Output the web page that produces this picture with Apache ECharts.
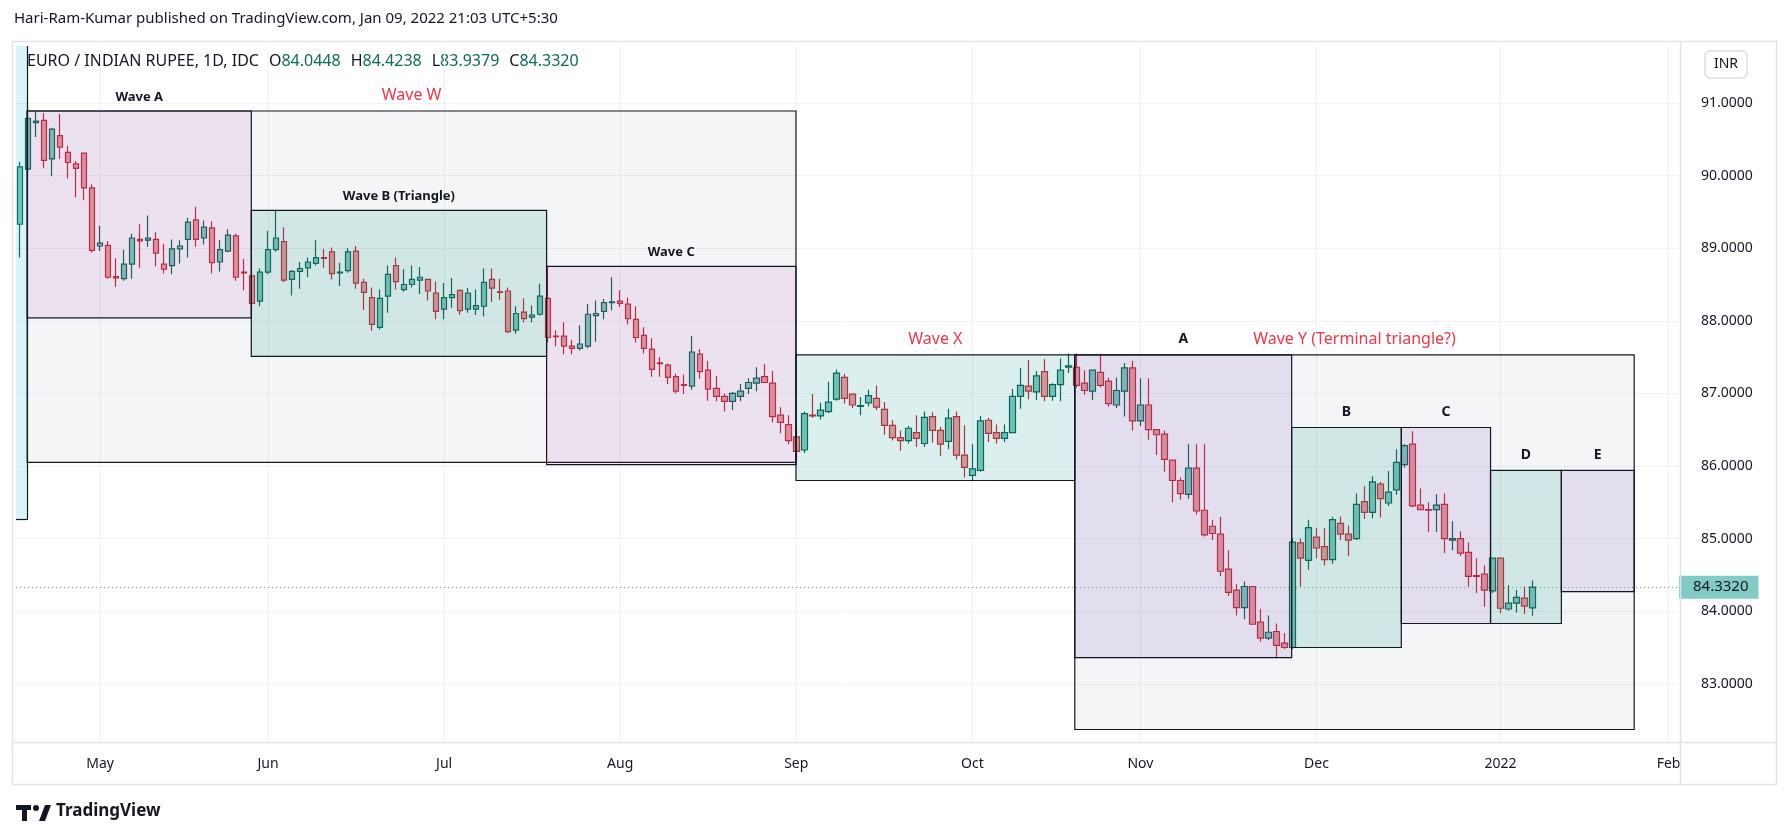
<!DOCTYPE html>
<html><head><meta charset="utf-8">
<script src="https://cdn.jsdelivr.net/npm/echarts@6/dist/echarts.min.js"></script>
<style>html,body{margin:0;padding:0;background:#fff}#c{width:1791px;height:838px}</style>
</head><body><div id="c"></div>
<script>
// ---------- DATA ----------
const firstDay = '2021-04-19';
const opens = [89.33,90.09,90.73,90.76,90.23,90.55,90.32,90.16,90.31,89.83,89.03,89.04,88.61,88.58,88.78,89.12,89.11,89.12,88.78,88.76,88.99,89.12,89.39,89.14,89.28,88.81,88.96,89.17,88.67,88.62,
88.27,88.67,88.98,89.09,88.57,88.68,88.73,88.79,88.87,88.95,88.66,88.69,88.96,88.53,88.32,87.91,88.34,88.76,88.43,88.50,88.56,88.57,88.38,88.16,88.32,88.42,88.16,88.16,88.20,88.57,
88.40,88.41,87.87,88.12,88.05,88.09,88.31,87.79,87.79,87.65,87.62,87.65,88.07,88.13,88.25,88.27,88.23,88.02,87.80,87.61,87.42,87.39,87.23,87.12,87.10,87.54,87.32,87.07,86.96,86.89,
86.96,87.07,87.14,87.23,87.14,86.70,86.57,86.40,86.22,86.70,86.69,86.75,86.92,87.22,86.99,86.82,86.87,86.93,86.78,86.56,86.39,86.35,86.46,86.31,86.68,86.49,86.34,86.68,86.15,85.87,
85.94,86.63,86.46,86.38,86.46,86.96,87.10,87.02,87.30,86.96,87.12,87.36,87.36,87.14,87.03,87.29,87.17,86.84,87.03,87.35,86.62,86.84,86.50,86.44,86.08,85.80,85.61,85.97,85.39,85.17,
85.06,84.58,84.29,84.05,84.34,83.85,83.63,83.72,83.56,83.50,84.94,84.70,85.02,84.89,84.71,85.21,85.06,85.00,85.51,85.36,85.75,85.49,85.67,86.02,86.30,85.46,85.40,85.40,85.47,84.98,
85.00,84.81,84.49,84.51,84.28,84.73,84.03,84.11,84.18,84.0448];
const highs = [90.19,90.96,90.88,90.86,90.66,90.85,90.41,90.20,90.31,89.88,89.31,89.10,88.86,88.98,89.20,89.33,89.45,89.22,89.06,89.12,89.11,89.42,89.57,89.38,89.37,89.11,89.26,89.20,88.85,88.67,
88.72,89.24,89.52,89.29,88.70,88.81,88.87,89.11,88.99,89.01,88.80,89.00,89.03,88.58,88.46,88.43,88.76,88.87,88.71,88.76,88.74,88.58,88.54,88.52,88.59,88.43,88.45,88.43,88.72,88.72,
88.58,88.46,88.20,88.31,88.21,88.51,88.74,87.87,87.98,87.74,87.94,88.23,88.28,88.30,88.60,88.42,88.32,88.20,87.91,87.76,87.50,87.41,87.27,87.26,87.79,87.61,87.45,87.24,87.00,87.02,
87.13,87.21,87.36,87.40,87.31,86.81,86.70,86.52,86.75,86.99,86.87,87.16,87.33,87.27,87.00,86.95,87.05,87.11,86.88,86.63,86.49,86.55,86.70,86.75,86.74,86.54,86.79,86.75,86.56,86.30,
86.69,86.66,86.57,86.57,87.06,87.35,87.46,87.31,87.47,87.14,87.48,87.55,87.55,87.32,87.33,87.54,87.22,87.22,87.42,87.45,87.21,87.21,86.50,86.49,86.09,85.84,86.30,86.30,86.30,85.26,
85.30,84.84,84.37,84.41,84.34,84.03,83.94,83.83,83.70,85.00,85.00,85.26,85.15,85.15,85.30,85.30,85.18,85.62,85.72,85.86,85.78,85.93,86.23,86.30,86.48,85.69,85.50,85.61,85.62,85.24,
85.10,84.95,84.73,84.63,84.73,84.74,84.36,84.29,84.34,84.4238];
const lows = [88.87,90.02,90.53,90.10,89.99,90.23,89.96,89.70,89.66,88.94,88.96,88.58,88.47,88.55,88.58,88.73,89.02,88.75,88.65,88.64,88.79,88.87,89.02,89.05,88.65,88.68,88.94,88.55,88.42,88.15,
88.20,88.64,88.95,88.53,88.35,88.44,88.60,88.76,88.73,88.57,88.48,88.66,88.44,88.15,87.86,87.88,88.11,88.43,88.40,88.46,88.37,88.28,88.02,88.02,88.18,88.08,88.11,88.08,88.06,88.26,
88.29,87.83,87.82,87.98,87.98,88.07,87.70,87.65,87.54,87.54,87.59,87.62,87.71,88.02,88.14,88.19,87.95,87.70,87.55,87.23,87.23,87.13,87.00,86.99,87.05,87.20,86.90,86.89,86.75,86.77,
86.89,86.99,87.03,87.15,86.60,86.45,86.30,86.08,86.18,86.66,86.64,86.73,86.90,86.86,86.80,86.70,86.82,86.77,86.43,86.35,86.21,86.31,86.26,86.26,86.32,86.14,86.23,86.09,85.84,85.80,
85.92,86.33,86.31,86.33,86.45,86.79,86.92,86.91,86.89,86.90,86.89,87.28,87.08,86.98,86.91,87.08,86.82,86.80,86.68,86.49,86.55,86.36,86.15,85.92,85.50,85.54,85.55,85.33,85.03,84.98,
84.48,84.21,83.94,83.89,83.82,83.58,83.60,83.35,83.48,83.48,84.34,84.57,84.73,84.63,84.65,84.98,84.76,84.98,85.27,85.28,85.29,85.45,85.60,85.98,85.43,85.39,85.09,85.09,84.80,84.84,
84.76,84.34,84.25,84.06,84.25,83.97,84.01,83.98,83.96,83.9379];
const closes = [90.12,90.79,90.75,90.21,90.64,90.39,90.18,90.10,89.83,88.97,89.07,88.60,88.59,88.78,89.14,89.10,89.14,88.93,88.71,88.99,89.03,89.36,89.12,89.29,88.80,88.98,89.18,88.60,88.66,88.24,
88.67,88.98,89.14,88.56,88.68,88.72,88.81,88.87,88.86,88.65,88.67,88.95,88.52,88.39,87.95,88.31,88.64,88.54,88.50,88.57,88.60,88.41,88.13,88.32,88.36,88.14,88.38,88.21,88.53,88.45,
88.39,87.85,88.10,88.03,88.08,88.34,87.77,87.78,87.65,87.62,87.68,88.09,88.10,88.25,88.26,88.24,88.03,87.77,87.62,87.33,87.41,87.22,87.03,87.11,87.57,87.30,87.06,86.96,86.89,87.00,
87.03,87.15,87.21,87.15,86.68,86.60,86.35,86.20,86.72,86.69,86.77,86.88,87.28,86.93,86.84,86.83,86.97,86.81,86.56,86.39,86.35,86.52,86.38,86.67,86.49,86.30,86.66,86.15,85.98,85.96,
86.62,86.45,86.38,86.46,86.96,87.11,87.03,87.24,86.96,87.12,87.32,87.38,87.11,87.04,87.32,87.11,86.86,87.04,87.35,86.62,86.84,86.50,86.43,86.09,85.80,85.62,85.97,85.38,85.05,85.07,
84.55,84.26,84.05,84.34,83.82,83.63,83.71,83.53,83.50,84.95,84.73,85.15,84.87,84.71,85.26,85.06,84.98,85.47,85.36,85.78,85.55,85.64,86.05,86.28,85.45,85.40,85.39,85.46,85.00,85.00,
84.80,84.48,84.48,84.29,84.73,84.04,84.11,84.19,84.07,84.3320];
const lastPrice = 84.3320;
const priceTicks = [83,84,85,86,87,88,89,90,91];
const monthTicks = [[10,'May'],[31,'Jun'],[53,'Jul'],[75,'Aug'],[97,'Sep'],[119,'Oct'],[140,'Nov'],[162,'Dec'],[185,'2022'],[206,'Feb']];
// wave boxes: [name, fromBar, toBar, low, high, kind]
const waveBoxes = [
  ['Wave W', 0.9, 96.96, 86.05, 90.89, 'grayRed'],
  ['Wave Y (Terminal triangle?)', 131.8, 201.7, 82.37, 87.53, 'grayRed'],
  ['Wave A', 0.9, 28.9, 88.04, 90.89, 'purple'],
  ['Wave B (Triangle)', 28.9, 65.8, 87.51, 89.52, 'cyan'],
  ['Wave C', 65.8, 96.96, 86.02, 88.75, 'purple'],
  ['Wave X', 96.96, 131.8, 85.80, 87.53, 'cyanRed'],
  ['A', 131.8, 158.9, 83.36, 87.53, 'lav'],
  ['B', 158.9, 172.6, 83.50, 86.53, 'cyan'],
  ['C', 172.6, 183.75, 83.83, 86.53, 'lav'],
  ['D', 183.75, 192.6, 83.83, 85.94, 'cyan'],
  ['E', 192.6, 201.7, 84.27, 85.94, 'lav']
];
// partial box entering from the left edge: [fromBar, toBar, low, high]
const leftBox = [-0.5, 0.9, 85.26, 91.785];

// ---------- BUILD ----------
const candles = opens.map((o,i)=>[i, o, closes[i], lows[i], highs[i]]);
const fills = {
  grayRed: 'rgba(120,123,134,0.08)',
  purple: 'rgba(156,39,176,0.09)', cyan: 'rgba(0,150,136,0.14)',
  cyanRed: 'rgba(0,150,136,0.14)', lav: 'rgba(103,58,183,0.12)'
};
function labelFor(name, kind){
  const red = kind==='grayRed' || kind==='cyanRed';
  const single = name.length===1;
  return {show: !!name, position:'top', distance: red?7:(single?8:7),
    color: red?'#f23645':'#131722', fontSize: red?16:(single?14:13),
    fontFamily:'Noto Sans', fontWeight: red?'normal':'bold'};
}
const areaData = [
  [{coord:[leftBox[0], leftBox[3]], itemStyle:{color:'rgba(0,188,212,0.15)', borderWidth:0}, label:{show:false}},
   {coord:[leftBox[1], leftBox[2]]}],
  ...waveBoxes.map(b=>[
  {name:b[0], coord:[b[1], b[4]], itemStyle:{color:fills[b[5]], borderColor:'#131722', borderWidth:1.2}, label:labelFor(b[0],b[5])},
  {coord:[b[2], b[3]]}
])];

const chart = echarts.init(document.getElementById('c'), null, {renderer:'canvas'});
const FONT = 'Noto Sans';
chart.setOption({
  animation:false,
  backgroundColor:'#ffffff',
  grid:{left:16, right:112, top:46, bottom:96, containLabel:false},
  xAxis:{type:'value', min:-0.5, max:207.3,
    axisLine:{show:false}, axisTick:{show:false}, splitLine:{show:false},
    axisLabel:{customValues: monthTicks.map(m=>m[0]), formatter:v=>{const m=monthTicks.find(t=>t[0]===v);return m?m[1]:'';},
      color:'#131722', fontSize:14, fontFamily:FONT, margin:15}},
  yAxis:{type:'value', position:'right', min:82.198, max:91.785, scale:true,
    axisLine:{show:false}, axisTick:{show:false}, splitLine:{show:false},
    axisLabel:{customValues: priceTicks, formatter:v=>v.toFixed(4), color:'#131722', fontSize:14, fontFamily:FONT, margin:22}},
  series:[
    {type:'line', data:[], z:0, silent:true,
     markLine:{silent:true, symbol:'none', z:0, animation:false, label:{show:false},
       lineStyle:{color:'#f0f2f6', type:'solid', width:1},
       data:[...priceTicks.map(p=>({yAxis:p})), ...monthTicks.map(m=>({xAxis:m[0]}))]}},
    {type:'candlestick', z:2, barWidth:6, data:candles,
     encode:{x:0, y:[1,2,3,4]},
     itemStyle:{color:'#80cbc0', color0:'#ef9a9d', borderColor:'#0d6152', borderColor0:'#c62834', borderWidth:1.2},
     markLine:{silent:true, symbol:'none', z:1, animation:false,
       lineStyle:{color:'#4fb3a8', type:[1,3], width:1},
       label:{show:true, position:'end', formatter:lastPrice.toFixed(4), backgroundColor:'#80cbc4', color:'#131722',
         fontSize:15, fontFamily:FONT, padding:[4,10,4,14], distance:0},
       data:[{yAxis:lastPrice}]}},
    {type:'line', data:[], z:5, silent:true,
     markArea:{silent:true, z:5, animation:false, data:areaData},
     markLine:{silent:true, symbol:'none', z:6, animation:false, label:{show:false},
       lineStyle:{color:'#131722', type:'solid', width:1.2},
       data:[[{coord:[leftBox[1], leftBox[3]]},{coord:[leftBox[1], leftBox[2]]}],
             [{coord:[leftBox[0], leftBox[2]]},{coord:[leftBox[1], leftBox[2]]}]]}}
  ],
  graphic:[
    {type:'rect', shape:{x:12.5,y:41.5,width:1764,height:743}, style:{fill:null, stroke:'#e0e3eb', lineWidth:1.5}, silent:true, z:-1},
    {type:'line', shape:{x1:1680.5,y1:41,x2:1680.5,y2:784}, style:{stroke:'#e0e3eb', lineWidth:1.5}, z:10},
    {type:'line', shape:{x1:13,y1:742.5,x2:1776,y2:742.5}, style:{stroke:'#e0e3eb', lineWidth:1.5}, z:10},
    {type:'text', left:14, top:11, style:{text:'Hari-Ram-Kumar published on TradingView.com, Jan 09, 2022 21:03 UTC+5:30', fill:'#131722', font:'15px "Noto Sans"'}},
    {type:'text', left:27, top:53, style:{text:'{a|EURO / INDIAN RUPEE, 1D, IDC}   {a|O}{g|84.0448}   {a|H}{g|84.4238}   {a|L}{g|83.9379}   {a|C}{g|84.3320}',
      rich:{a:{fill:'#131722', font:'16px "Noto Sans"'}, g:{fill:'#0e6b5a', font:'16px "Noto Sans"'}}}},
    {type:'rect', shape:{x:1705,y:51,width:42,height:27,r:5}, style:{fill:'#fff', stroke:'#c9cdd6', lineWidth:1}, z:10},
    {type:'text', x:1726, y:64.5, style:{text:'INR', fill:'#131722', font:'14px "Noto Sans"', align:'center', verticalAlign:'middle'}, z:11},
    {type:'group', left:16, top:803, children:[
      {type:'rect', shape:{x:0,y:0,width:15,height:5}, style:{fill:'#131722'}},
      {type:'rect', shape:{x:6,y:0,width:5,height:16}, style:{fill:'#131722'}},
      {type:'circle', shape:{cx:20,cy:3,r:3}, style:{fill:'#131722'}},
      {type:'polygon', shape:{points:[[23,16],[29,0],[35,0],[29,16]]}, style:{fill:'#131722'}},
      {type:'text', x:40, y:-2, style:{text:'TradingView', fill:'#131722', font:'bold 17px "Noto Sans"'}}
    ]}
  ]
});
</script></body></html>
